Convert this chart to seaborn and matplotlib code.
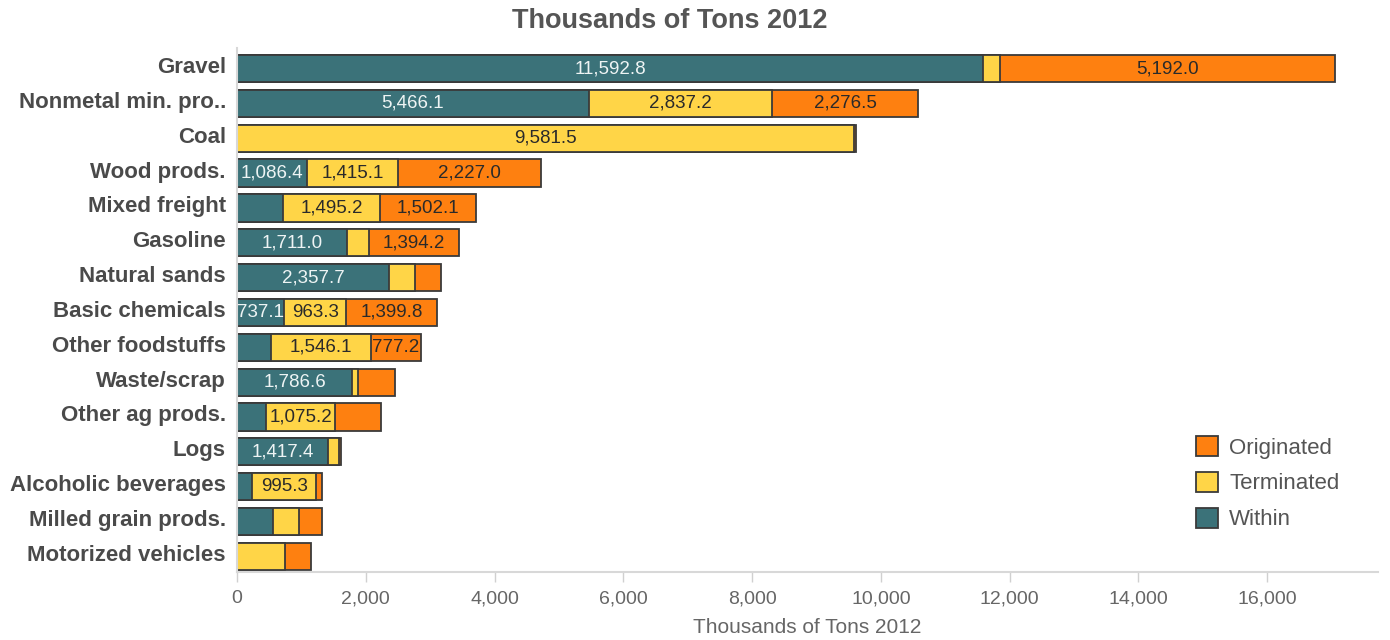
import matplotlib
matplotlib.use("Agg")
import matplotlib.pyplot as plt
import matplotlib.transforms as mtransforms
from matplotlib.patches import Patch
import numpy as np
import pandas as pd
import seaborn as sns

# Commodity groups, top to bottom
categories = [
    "Gravel", "Nonmetal min. pro..", "Coal", "Wood prods.", "Mixed freight",
    "Gasoline", "Natural sands", "Basic chemicals", "Other foodstuffs",
    "Waste/scrap", "Other ag prods.", "Logs", "Alcoholic beverages",
    "Milled grain prods.", "Motorized vehicles",
]

# Thousands of tons by flow type
within = [11592.8, 5466.1, 0.0, 1086.4, 720.0, 1711.0, 2357.7, 737.1, 535.0,
          1786.6, 450.0, 1417.4, 238.0, 564.0, 0.0]
terminated = [260.0, 2837.2, 9581.5, 1415.1, 1495.2, 335.0, 400.0, 963.3, 1546.1,
              100.0, 1075.2, 170.0, 995.3, 405.0, 740.0]
originated = [5192.0, 2276.5, 25.0, 2227.0, 1502.1, 1394.2, 410.0, 1399.8, 777.2,
              565.0, 710.0, 30.0, 80.0, 352.0, 415.0]

# Which segments carry a value label
within_labeled = [1, 1, 0, 1, 0, 1, 1, 1, 0, 1, 0, 1, 0, 0, 0]
terminated_labeled = [0, 1, 1, 1, 1, 0, 0, 1, 1, 0, 1, 0, 1, 0, 0]
originated_labeled = [1, 1, 0, 1, 1, 1, 0, 1, 1, 0, 0, 0, 0, 0, 0]

x_ticks = [0, 2000, 4000, 6000, 8000, 10000, 12000, 14000, 16000]
axis_title = "Thousands of Tons 2012"
legend_labels = ["Originated", "Terminated", "Within"]

c_within = "#3b7279"
c_term = "#ffd547"
c_orig = "#fe8010"
edge = "#3a3a3a"

sns.set_theme(style="white")
plt.rcParams["font.family"] = ["Liberation Sans", "DejaVu Sans"]

df = pd.DataFrame({
    "cat": categories,
    "within": within,
    "terminated": terminated,
    "originated": originated,
})
df["cum_term"] = df["within"] + df["terminated"]
df["cum_orig"] = df["cum_term"] + df["originated"]

W, H = 1390, 640
fig = plt.figure(figsize=(W / 100, H / 100), dpi=100)
ax_left, ax_right, ax_top, ax_bottom = 237, 1378, 48, 572
ax = fig.add_axes([ax_left / W, 1 - ax_bottom / H,
                   (ax_right - ax_left) / W, (ax_bottom - ax_top) / H])

# Stacked bars drawn as cumulative totals, largest first
bar_kw = dict(orient="h", edgecolor=edge, linewidth=1.3, width=0.78, ax=ax, saturation=1)
sns.barplot(data=df, x="cum_orig", y="cat", color=c_orig, **bar_kw)
sns.barplot(data=df, x="cum_term", y="cat", color=c_term, **bar_kw)
sns.barplot(data=df, x="within", y="cat", color=c_within, **bar_kw)

# Value labels centred in each segment
for i in range(len(df)):
    w = df["within"][i]
    t = df["terminated"][i]
    o = df["originated"][i]
    if within_labeled[i]:
        ax.text(w / 2, i, f"{w:,.1f}", ha="center", va="center",
                fontsize=13.5, color="#eef4f4")
    if terminated_labeled[i]:
        ax.text(w + t / 2, i, f"{t:,.1f}", ha="center", va="center",
                fontsize=13.5, color="#2a2a2a")
    if originated_labeled[i]:
        ax.text(w + t + o / 2, i, f"{o:,.1f}", ha="center", va="center",
                fontsize=13.5, color="#2a2a2a")

ax.set_xlim(0, 17720)
ax.set_ylim(len(categories) - 1 + 0.45, -0.59)
ax.set_xticks(x_ticks)
ax.set_xticklabels([f"{v:,}" for v in x_ticks], fontsize=14, color="#666666")
ax.set_yticks(range(len(categories)))
ax.set_yticklabels(categories, fontsize=16, fontweight="bold", color="#4a4a4a")
ax.tick_params(axis="x", length=7, width=1, color="#d0d0d0", pad=6, direction="out",
               bottom=True)
ax.tick_params(axis="y", length=0, pad=8)

# Nudge category names slightly upward
lift = mtransforms.ScaledTranslation(0, 2.5 / 72, fig.dpi_scale_trans)
for lab in ax.get_yticklabels():
    lab.set_transform(lab.get_transform() + lift)

for side in ["top", "right"]:
    ax.spines[side].set_visible(False)
for side in ["left", "bottom"]:
    ax.spines[side].set_color("#d8d8d8")
    ax.spines[side].set_linewidth(1.5)

ax.set_xlabel(axis_title, fontsize=15, color="#666666", labelpad=8)
ax.set_ylabel("")
fig.text(670 / W, 1 - 21 / H, axis_title, fontsize=19.5, fontweight="bold",
         color="#555555", ha="center", va="center")

handles = [Patch(facecolor=c_orig, edgecolor=edge, linewidth=1.3),
           Patch(facecolor=c_term, edgecolor=edge, linewidth=1.3),
           Patch(facecolor=c_within, edgecolor=edge, linewidth=1.3)]
leg = fig.legend(handles, legend_labels, loc="upper left",
                 bbox_to_anchor=(1196 / W, 1 - 436 / H),
                 frameon=False, fontsize=16, handlelength=1.0, handleheight=1.0,
                 handletextpad=0.5, labelspacing=0.6, borderpad=0, borderaxespad=0)
for txt in leg.get_texts():
    txt.set_color("#555555")

fig.savefig("out.png", dpi=100)
